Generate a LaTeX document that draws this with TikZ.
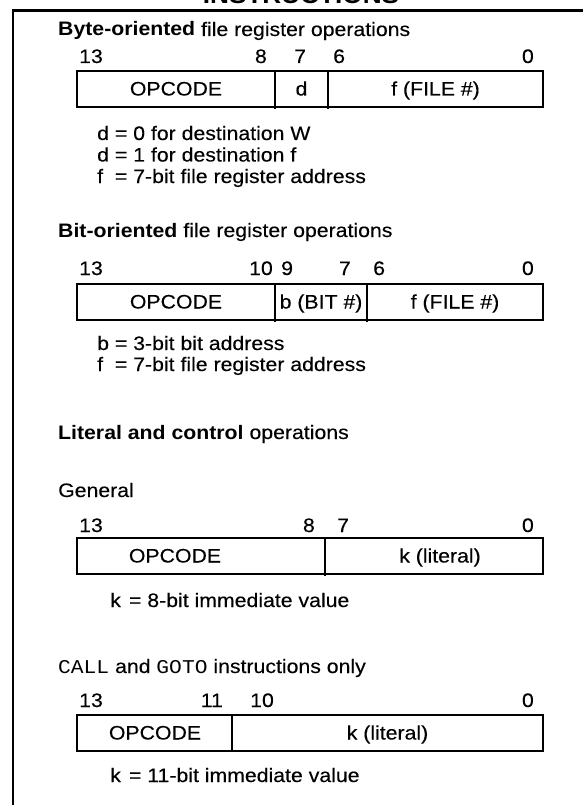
\documentclass[tikz,border=0pt]{standalone}
\usepackage{fontspec}
\setmainfont[FakeStretch=1.09,UprightFeatures={FakeBold=0.25}]{Liberation Sans}
\setmonofont[FakeStretch=1.09]{Liberation Mono}
\begin{document}
\begin{tikzpicture}[x=1pt,y=-1pt,line join=miter,
		every node/.style={inner sep=0pt,font=\fontsize{19.5}{23}\selectfont},
		txt/.style={anchor=base west},
		bitl/.style={anchor=base west},
		bitr/.style={anchor=base east},
		field/.style={anchor=base},
		regbox/.style={line width=2pt},
		divider/.style={line width=1.7pt}]
		\useasboundingbox (0,0) rectangle (583,805);
		\clip (0,0) rectangle (583,805);
		\node[anchor=base,font=\fontsize{24}{28}\selectfont\bfseries] (title) at (301,4) {INSTRUCTIONS};
		\draw[line width=2.5pt] (13,805)--(13,10.7)--(583,10.7);
		% byte-oriented
		\node[txt] (byteh) at (58,36) {\textbf{Byte-oriented} file register operations};
		\node[bitl] (bya) at (79,63) {13};
		\node[bitr] (byb) at (267,63) {8};
		\node[bitl] (byc) at (294,63) {7};
		\node[bitl] (byd) at (333,63) {6};
		\node[bitr] (bye) at (534,63) {0};
		\draw[regbox] (77,71) rectangle (543,107);
		\draw[divider] (275,71)--(275,109);
		\draw[divider] (328,71)--(328,109);
		\node[field] (byop) at (176,95.5) {OPCODE};
		\node[field] (byd) at (301.5,95.5) {d};
		\node[field] (byf) at (435.5,95.5) {f (FILE \#)};
		\node[txt] (bynotea) at (97,140) {d = 0 for destination W};
		\node[txt] (bynoteb) at (97,161.5) {d = 1 for destination f};
		\node[txt] (bynotec) at (97,183) {\rlap{f}\phantom{d} = 7-bit file register address};
		% bit-oriented
		\node[txt] (bith) at (58,237) {\textbf{Bit-oriented} file register operations};
		\node[bitl] (bia) at (79,275) {13};
		\node[bitr] (bib) at (273,275) {10};
		\node[bitl] (bic) at (281,275) {9};
		\node[bitr] (bid) at (351,275) {7};
		\node[bitl] (bie) at (373,275) {6};
		\node[bitr] (bif) at (534,275) {0};
		\draw[regbox] (77,284) rectangle (543,320);
		\draw[divider] (275,284)--(275,322);
		\draw[divider] (367,284)--(367,322);
		\node[field] (biop) at (176,308.5) {OPCODE};
		\node[field] (bib) at (321,308.5) {b (BIT \#)};
		\node[field] (bif) at (455,308.5) {f (FILE \#)};
		\node[txt] (binotea) at (97,350) {b = 3-bit bit address};
		\node[txt] (binoteb) at (97,371) {\rlap{f}\phantom{b} = 7-bit file register address};
		% literal and control
		\node[txt] (lith) at (58,439) {\textbf{Literal and control} operations};
		\node[txt] (genh) at (58,497) {General};
		\node[bitl] (gea) at (79,532) {13};
		\node[bitr] (geb) at (315,532) {8};
		\node[bitl] (gec) at (337,532) {7};
		\node[bitr] (ged) at (534,532) {0};
		\draw[regbox] (77,538) rectangle (543,574);
		\draw[divider] (325,538)--(325,576);
		\node[field] (geop) at (175,562.5) {OPCODE};
		\node[field] (gek) at (440,562.5) {k (literal)};
		\node[txt] (genote) at (110,607) {k\hspace{0.42em}= 8-bit immediate value};
		% call and goto
		\node[txt] (calh) at (58,673) {\texttt{CALL} and \texttt{GOTO} instructions only};
		\node[bitl] (caa) at (79,707) {13};
		\node[bitr] (cab) at (223,707) {11};
		\node[bitl] (cac) at (250,707) {10};
		\node[bitr] (cad) at (534,707) {0};
		\draw[regbox] (77,715) rectangle (543,751);
		\draw[divider] (232,715)--(232,751);
		\node[field] (caop) at (155,739.5) {OPCODE};
		\node[field] (cak) at (387.5,739.5) {k (literal)};
		\node[txt] (canote) at (110,782) {k\hspace{0.42em}= 11-bit immediate value};
	\end{tikzpicture}
\end{document}
